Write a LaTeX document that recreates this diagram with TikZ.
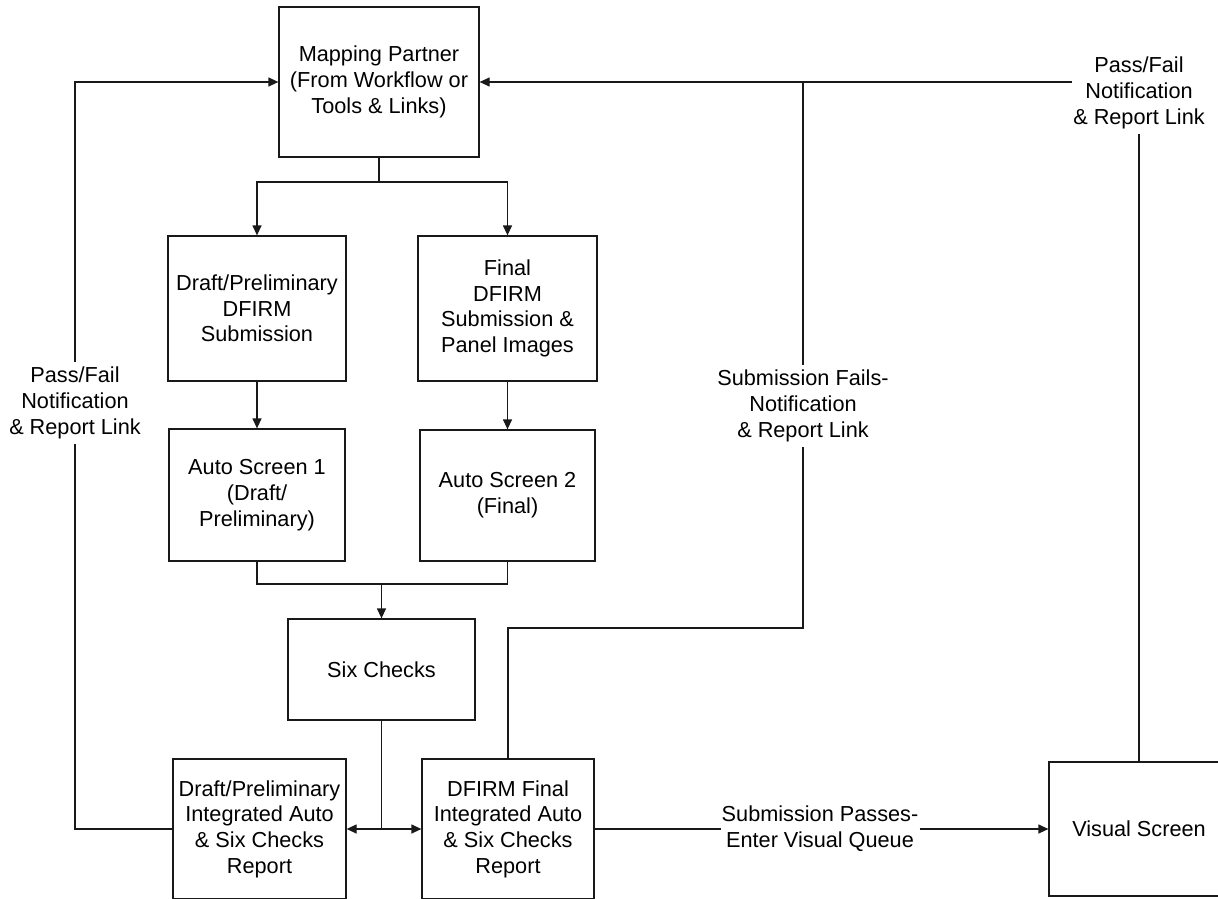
\documentclass[tikz,border=0pt]{standalone}
\usepackage{fontspec}
\setmainfont{Liberation Sans}
\usetikzlibrary{arrows.meta}
\begin{document}
\begin{tikzpicture}[x=1pt,y=-1pt,
  txt/.style={align=center, font=\fontsize{21.7}{25.7}\selectfont},
  box/.style={txt, draw=black!90, line width=1.25pt, inner sep=0pt},
  lbl/.style={txt, inner xsep=1pt, inner ysep=5pt},
  line/.style={draw=black!90, line width=1.25pt},
  arr/.style={line, -{Triangle[length=10pt,width=9pt]}}]
\clip (0,0) rectangle (1218,899);
% boxes
\node[box, minimum width=200pt, minimum height=150pt] (mp) at (379,82) {Mapping Partner\\(From Workflow or\\Tools \& Links)};
\node[box, minimum width=178pt, minimum height=145pt] (draft) at (257,308.5) {Draft/Preliminary\\DFIRM\\Submission};
\node[box, minimum width=179pt, minimum height=145pt] (final) at (507.5,308.5) {Final\\DFIRM\\Submission \&\\Panel Images};
\node[box, minimum width=176pt, minimum height=132pt] (as1) at (257,495) {Auto Screen 1\\(Draft/\\Preliminary)};
\node[box, minimum width=175pt, minimum height=131pt] (as2) at (507.5,495.5) {Auto Screen 2\\(Final)};
\node[box, minimum width=187pt, minimum height=101pt] (six) at (381.5,669.5) {Six Checks};
\node[box, minimum width=173pt, minimum height=140pt] (dr) at (259.5,829) {Draft/Preliminary\\Integrated Auto\\\& Six Checks\\Report};
\node[box, minimum width=172pt, minimum height=140pt] (fr) at (508,829) {DFIRM Final\\Integrated Auto\\\& Six Checks\\Report};
\node[box, minimum width=180pt, minimum height=134pt] (vs) at (1139,829) {Visual Screen};
% labels
\node[lbl] (l1) at (75,403) {Pass/Fail\\Notification\\\& Report Link};
\node[lbl] (l2) at (803,406) {Submission Fails-\\Notification\\\& Report Link};
\node[lbl] (l3) at (1139,93) {Pass/Fail\\Notification\\\& Report Link};
\node[lbl] (l4) at (820,829) {Submission Passes-\\Enter Visual Queue};
% junctions
\coordinate (j1) at (379,182);
\coordinate (j2) at (381.5,584);
\coordinate (j3) at (381.5,829);
\coordinate (k) at (803,628);
% connectors
\draw[line] (mp.south) -- (j1);
\draw[arr] (j1) -| (draft.north);
\draw[arr] (j1) -| (final.north);
\draw[arr] (draft) -- (as1);
\draw[arr] (final) -- (as2);
\draw[line] (as1.south) |- (j2);
\draw[line] (as2.south) |- (j2);
\draw[arr] (j2) -- (six.north);
\draw[line] (six.south) -- (j3);
\draw[arr] (j3) -- (dr.east);
\draw[arr] (j3) -- (fr.west);
\draw[line] (dr.west) -| (l1.south);
\draw[arr] (l1.north) |- (mp.west);
\draw[line] (fr.north) |- (k) -- (l2.south);
\draw[line] (l2.north) -- (l2.north |- mp.east);
\draw[arr] (l3.west |- mp.east) -- (mp.east);
\draw[line] (vs.north) -- (l3.south);
\draw[line] (fr.east) -- (l4.west);
\draw[arr] (l4.east) -- (vs.west);
\end{tikzpicture}
\end{document}
